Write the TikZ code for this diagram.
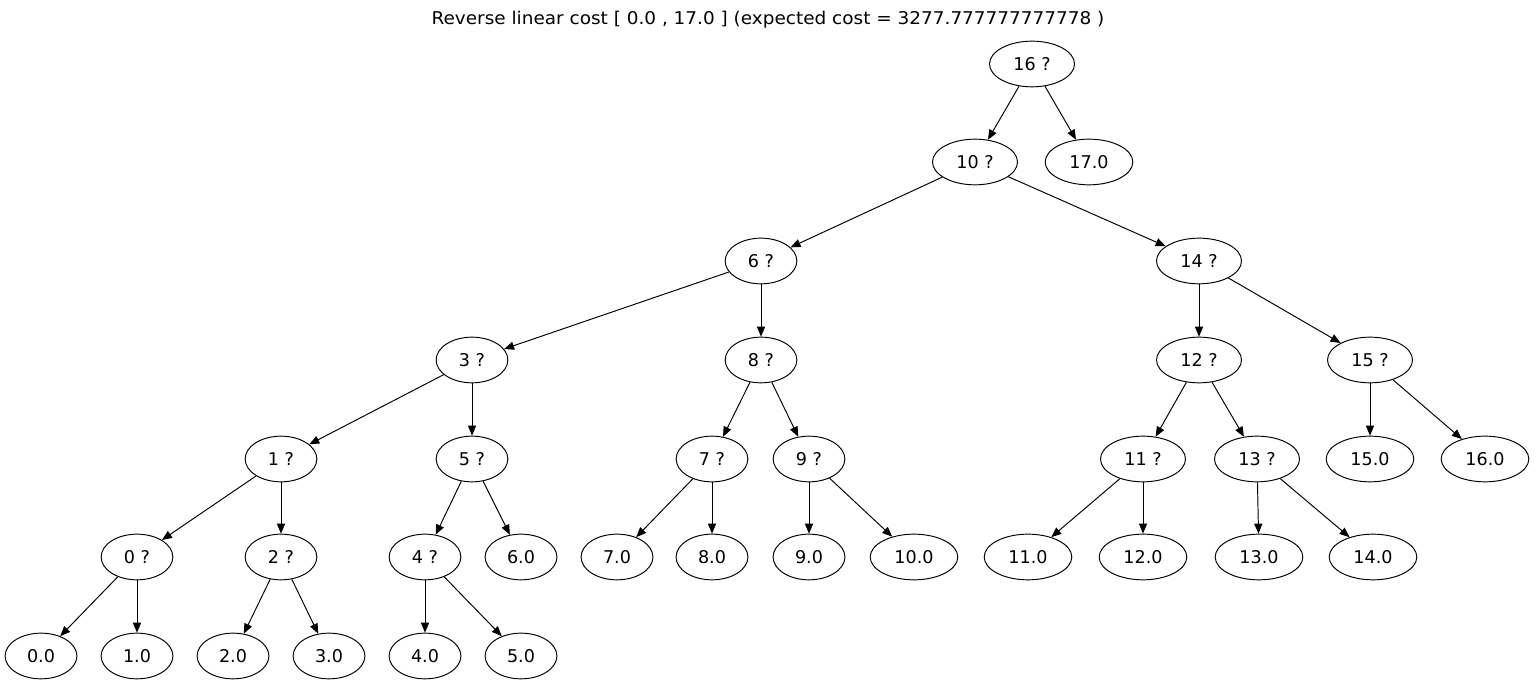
\documentclass[tikz,border=0pt]{standalone}
\usepackage{fontspec}
\setmainfont{DejaVu Sans}
\usepackage{tikz}
\usetikzlibrary{shapes.geometric,arrows.meta}

\begin{document}
\begin{tikzpicture}[
    x=0.02cm, y=-0.02cm,
    line width=0.55pt,
    nd/.style={ellipse, draw, minimum width=40.8pt, minimum height=26pt, inner xsep=6.5pt, font=\fontsize{10}{12}\selectfont},
    arrow/.style={-{Triangle[length=5.7pt,width=4.6pt]}}
]
\useasboundingbox (0,0) rectangle (1536,688);
\node[font=\fontsize{10}{12}\selectfont, xscale=1.05] (title) at (768,20) {Reverse linear cost [ 0.0 , 17.0 ] (expected cost = 3277.777777777778 )};

% decision nodes
\node[nd] (q16) at (1032,64) {16 ?};
\node[nd] (q10) at (975,162) {10 ?};
\node[nd] (q6) at (761,261) {6 ?};
\node[nd] (q14) at (1199,261) {14 ?};
\node[nd] (q3) at (472,360) {3 ?};
\node[nd] (q8) at (761,360) {8 ?};
\node[nd] (q12) at (1199,360) {12 ?};
\node[nd] (q15) at (1370,360) {15 ?};
\node[nd] (q1) at (281,459) {1 ?};
\node[nd] (q5) at (472,459) {5 ?};
\node[nd] (q7) at (712,459) {7 ?};
\node[nd] (q9) at (809,459) {9 ?};
\node[nd] (q11) at (1143,459) {11 ?};
\node[nd] (q13) at (1257,459) {13 ?};
\node[nd] (q0) at (137,557) {0 ?};
\node[nd] (q2) at (281,557) {2 ?};
\node[nd] (q4) at (425,557) {4 ?};

% leaves
\node[nd] (v17) at (1089,162) {17.0};
\node[nd] (v15) at (1370,459) {15.0};
\node[nd] (v16) at (1485,459) {16.0};
\node[nd] (v6) at (521,557) {6.0};
\node[nd] (v7) at (617,557) {7.0};
\node[nd] (v8) at (712,557) {8.0};
\node[nd] (v9) at (809,557) {9.0};
\node[nd] (v10) at (914,557) {10.0};
\node[nd] (v11) at (1028,557) {11.0};
\node[nd] (v12) at (1143,557) {12.0};
\node[nd] (v13) at (1259,557) {13.0};
\node[nd] (v14) at (1373,557) {14.0};
\node[nd] (v0) at (41,656) {0.0};
\node[nd] (v1) at (137,656) {1.0};
\node[nd] (v2) at (233,656) {2.0};
\node[nd] (v3) at (329,656) {3.0};
\node[nd] (v4) at (425,656) {4.0};
\node[nd] (v5) at (521,656) {5.0};

\draw[arrow] (q16) -- (q10);
\draw[arrow] (q16) -- (v17);
\draw[arrow] (q10) -- (q6);
\draw[arrow] (q10) -- (q14);
\draw[arrow] (q6) -- (q3);
\draw[arrow] (q6) -- (q8);
\draw[arrow] (q14) -- (q12);
\draw[arrow] (q14) -- (q15);
\draw[arrow] (q3) -- (q1);
\draw[arrow] (q3) -- (q5);
\draw[arrow] (q8) -- (q7);
\draw[arrow] (q8) -- (q9);
\draw[arrow] (q12) -- (q11);
\draw[arrow] (q12) -- (q13);
\draw[arrow] (q15) -- (v15);
\draw[arrow] (q15) -- (v16);
\draw[arrow] (q1) -- (q0);
\draw[arrow] (q1) -- (q2);
\draw[arrow] (q5) -- (q4);
\draw[arrow] (q5) -- (v6);
\draw[arrow] (q7) -- (v7);
\draw[arrow] (q7) -- (v8);
\draw[arrow] (q9) -- (v9);
\draw[arrow] (q9) -- (v10);
\draw[arrow] (q11) -- (v11);
\draw[arrow] (q11) -- (v12);
\draw[arrow] (q13) -- (v13);
\draw[arrow] (q13) -- (v14);
\draw[arrow] (q0) -- (v0);
\draw[arrow] (q0) -- (v1);
\draw[arrow] (q2) -- (v2);
\draw[arrow] (q2) -- (v3);
\draw[arrow] (q4) -- (v4);
\draw[arrow] (q4) -- (v5);
\end{tikzpicture}
\end{document}
